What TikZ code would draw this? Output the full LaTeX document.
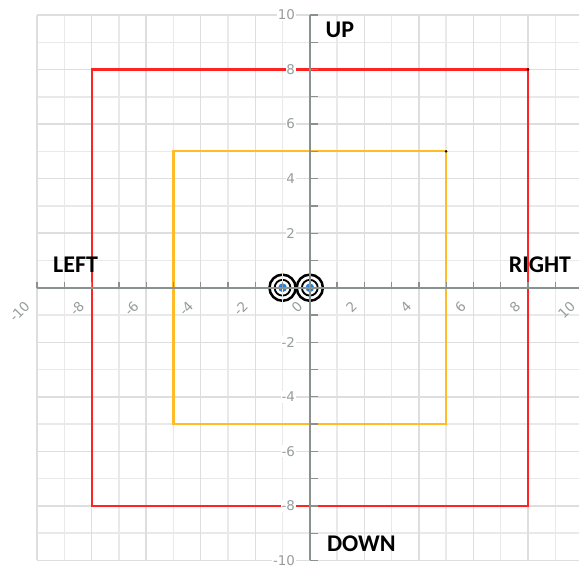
\documentclass[tikz,border=0pt]{standalone}
\usepackage{fontspec}
\setmainfont{Carlito}
\newfontfamily\tickfont{DejaVu Sans}
\usetikzlibrary{positioning}
\definecolor{gridlight}{RGB}{233,233,233}
\definecolor{griddark}{RGB}{222,222,222}
\definecolor{axisgray}{RGB}{138,146,144}
\definecolor{ticktext}{RGB}{150,156,156}
\definecolor{boxred}{RGB}{255,35,35}
\definecolor{boxamber}{RGB}{255,188,40}
\definecolor{dotblue}{RGB}{38,128,222}
\tikzset{
  gridline/.style={draw=#1,line width=1.5pt},
  gridline/.default=gridlight,
  axisline/.style={draw=axisgray,line width=1.9pt},
  tickmark/.style={draw=axisgray,line width=1.4pt},
  zonebox/.style={draw=#1,line width=2.2pt,line join=miter},
  xlabel/.style={font=\tickfont\fontsize{14}{14}\selectfont,text=ticktext,rotate=45,anchor=east,inner sep=0pt},
  ylabel/.style={font=\tickfont\fontsize{14}{14}\selectfont,text=ticktext,anchor=east,fill=white,inner sep=1pt},
  dirlabel/.style={font=\bfseries\fontsize{25}{25}\selectfont,text=black,inner sep=0pt},
  % pictograms
  pics/target/.style={code={
    \draw[black,line width=2.6pt] (0,0) circle (0.48);
    \draw[black,line width=1.9pt] (0,0) circle (0.29);
    \fill[dotblue] (0,0) circle (0.16);
  }},
}

\begin{document}
\begin{tikzpicture}
    \clip (-11.36,-10.37) rectangle (9.87,10.55);
    \fill[white] (-11.36,-10.37) rectangle (9.87,10.55);
    % markers
    \pic at (-1,0) {target};
    \pic at (0,0) {target};
    % grid
    \foreach \v in {-9,-7,...,9} {
      \draw[gridline] (\v,-10) -- (\v,10);
      \draw[gridline] (-10,\v) -- (10,\v);
    }
    \foreach \v in {-10,-8,...,10} {
      \draw[gridline=griddark] (\v,-10) -- (\v,10);
      \draw[gridline=griddark] (-10,\v) -- (10,\v);
    }
    % zones
    \foreach \s/\c in {8/boxred,5/boxamber} {
      \coordinate (sw\s) at (-\s,-\s);
      \coordinate (ne\s) at (\s,\s);
      \draw[zonebox=\c] (sw\s) -- (sw\s |- ne\s) -- (ne\s) -- (ne\s |- sw\s) -- cycle;
      \fill[black] (ne\s) circle (0.05);
    }
    % axes
    \draw[axisline] (-10,0) -- (10,0);
    \draw[axisline] (0,-10) -- (0,10);
    \foreach \v in {-10,...,10} {
      \draw[tickmark] (\v,0) -- (\v,0.22);
      \draw[tickmark] (0,\v) -- (0.3,\v);
    }
    \foreach \v in {-10,-8,...,10}
      \node[xlabel] (xl\v) at (\v-0.36,-0.58) {\v};
    \foreach \v in {-10,-8,-6,-4,-2,2,4,6,8,10}
      \node[ylabel] (yl\v) at (-0.5,\v) {\v};
    % directions
    \node[dirlabel] (up) at (1.1,9.45) {UP};
    \node[dirlabel] (down) at (1.89,-9.39) {DOWN};
    \node[dirlabel] (left) at (-8.59,0.84) {LEFT};
    \node[dirlabel] (right) at (8.44,0.84) {RIGHT};
\end{tikzpicture}
\end{document}
